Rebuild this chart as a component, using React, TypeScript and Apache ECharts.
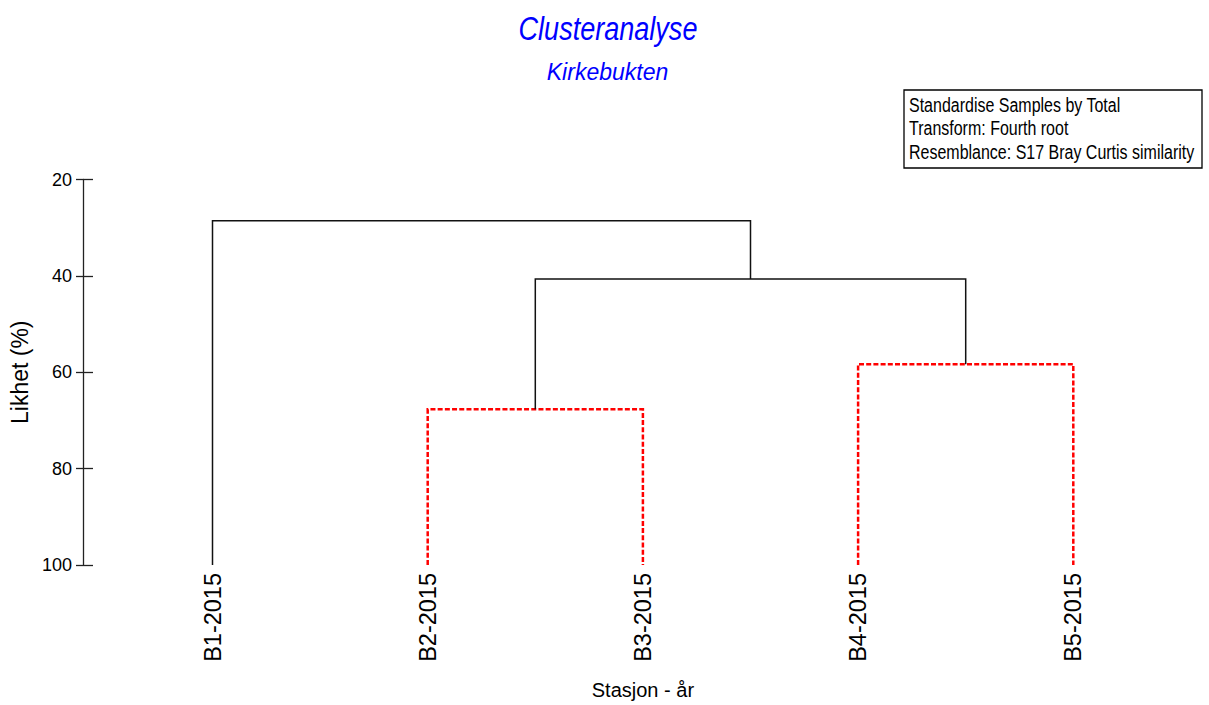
import React, { useEffect, useRef } from "react";
import * as echarts from "echarts";

// ---- data ----
const leafLabels = ["B1-2015", "B2-2015", "B3-2015", "B4-2015", "B5-2015"];
const leafHeight = 100;
// merges: children indices (0..4 leaves, 5.. merge nodes in order)
const mergeLeftChild = [1, 3, 5, 0];
const mergeRightChild = [2, 4, 6, 7];
const mergeHeights = [67.7, 58.35, 40.65, 28.55];
const mergeSignificant = [false, false, true, true];
const yTicks = [20, 40, 60, 80, 100];
const infoLines = [
  "Standardise Samples by Total",
  "Transform: Fourth root",
  "Resemblance: S17 Bray Curtis similarity",
];

const FONT = "'Liberation Sans', Arial, sans-serif";
const NARROW = 0.82;

function buildNodes() {
  const xs: number[] = leafLabels.map((_, i) => i);
  const ys: number[] = leafLabels.map(() => leafHeight);
  const items: any[] = [];
  for (let i = 0; i < mergeHeights.length; i++) {
    const l = mergeLeftChild[i];
    const r = mergeRightChild[i];
    items.push([xs[l], ys[l], xs[r], ys[r], mergeHeights[i], mergeSignificant[i] ? 1 : 0]);
    xs.push((xs[l] + xs[r]) / 2);
    ys.push(mergeHeights[i]);
  }
  return items;
}

export default function App() {
  const ref = useRef<HTMLDivElement>(null);
  useEffect(() => {
    document.body.style.margin = "0";
    if (!ref.current) return;
    const chart = echarts.init(ref.current, undefined, { renderer: "svg" });
    const nodes = buildNodes();
    const yAxisBase = {
      type: "value",
      inverse: true,
      min: yTicks[0],
      max: yTicks[yTicks.length - 1],
      interval: 20,
      position: "left",
      offset: 21.9,
      splitLine: { show: false },
    };
    chart.setOption({
      animation: false,
      backgroundColor: "#ffffff",
      grid: {
        left: 104.9,
        top: 179.5,
        width: 1076,
        height: 385.5,
        containLabel: false,
        outerBoundsMode: "none",
      },
      xAxis: {
        type: "category",
        data: leafLabels,
        boundaryGap: true,
        axisLine: { show: false },
        axisTick: { show: false },
        axisLabel: {
          rotate: 90,
          margin: 8,
          fontSize: 23.5,
          fontFamily: FONT,
          color: "#000",
        },
        name: "Stasjon - år",
        nameLocation: "middle",
        nameGap: 115,
        nameTextStyle: { fontSize: 20, fontFamily: FONT, color: "#000" },
      },
      yAxis: [
        {
          ...yAxisBase,
          axisLine: { show: true, lineStyle: { color: "#222", width: 1.3 } },
          axisTick: { show: true, inside: false, length: 7, lineStyle: { color: "#222", width: 1.3 } },
          axisLabel: { margin: 11, fontSize: 18, fontFamily: FONT, color: "#000" },
          name: "Likhet (%)",
          nameLocation: "middle",
          nameGap: 45,
          nameTextStyle: { fontSize: 23, fontFamily: FONT, color: "#000" },
        },
        {
          ...yAxisBase,
          axisLine: { show: false },
          axisTick: { show: true, inside: true, length: 10, lineStyle: { color: "#222", width: 1.3 } },
          axisLabel: { show: false },
        },
      ],
      series: [
        {
          type: "custom",
          clip: false,
          data: nodes,
          renderItem: (params: any, api: any) => {
            const xl = api.value(0);
            const yl = api.value(1);
            const xr = api.value(2);
            const yr = api.value(3);
            const ym = api.value(4);
            const sig = api.value(5);
            const p0 = api.coord([0, 100]);
            const p1 = api.coord([1, 100]);
            const step = p1[0] - p0[0];
            const px = (v: number) => p0[0] + v * step;
            const py = (v: number) => api.coord([0, v])[1];
            const pts = [
              [px(xl), py(yl)],
              [px(xl), py(ym)],
              [px(xr), py(ym)],
              [px(xr), py(yr)],
            ];
            return {
              type: "polyline",
              shape: { points: pts },
              style: sig
                ? { stroke: "#111", lineWidth: 1.5, fill: "none" }
                : { stroke: "#ff0000", lineWidth: 2.5, lineDash: [5, 2.2], fill: "none" },
            };
          },
        },
      ],
      graphic: [
        {
          type: "text",
          x: 608,
          y: 29,
          scaleX: NARROW,
          style: {
            text: "Clusteranalyse",
            x: 0,
            y: 0,
            align: "center",
            verticalAlign: "middle",
            fontSize: 33,
            fontStyle: "italic",
            fontFamily: FONT,
            fill: "#0000ff",
          },
        },
        {
          type: "text",
          x: 607.5,
          y: 71.5,
          style: {
            text: "Kirkebukten",
            x: 0,
            y: 0,
            align: "center",
            verticalAlign: "middle",
            fontSize: 23,
            fontStyle: "italic",
            fontFamily: FONT,
            fill: "#0000ff",
          },
        },
        {
          type: "rect",
          shape: { x: 904, y: 90, width: 298, height: 78 },
          style: { fill: "#fff", stroke: "#000", lineWidth: 1.3 },
        },
        ...infoLines.map((t, i) => ({
          type: "text",
          x: 909,
          y: 105 + i * 23.5,
          scaleX: NARROW,
          style: {
            text: t,
            x: 0,
            y: 0,
            align: "left",
            verticalAlign: "middle",
            fontSize: 19.5,
            fontFamily: FONT,
            fill: "#000",
          },
        })),
      ],
    });
    return () => chart.dispose();
  }, []);
  return <div ref={ref} style={{ width: 1209, height: 705 }} />;
}
